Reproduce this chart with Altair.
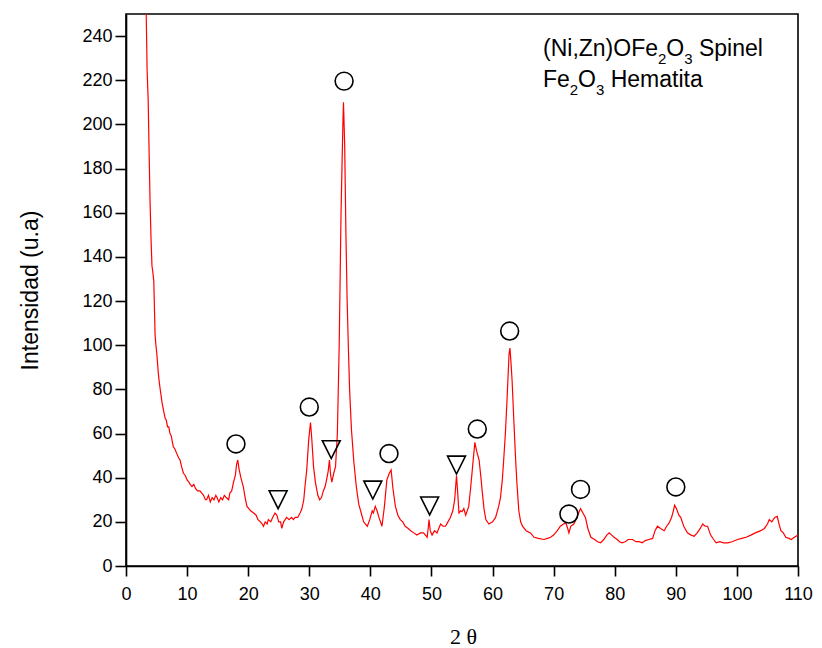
import altair as alt
import pandas as pd

# ---- data ----
two_theta = [
    3.30, 3.45, 3.63, 3.80, 3.93, 4.10, 4.20, 4.25, 4.40, 4.55, 4.70, 4.75, 4.90, 5.05, 5.30, 5.50,
    5.70, 5.90, 6.10, 6.40, 6.60, 6.80, 7.00, 7.20, 7.40, 7.60, 7.75, 8.00, 8.30, 8.60, 8.85, 9.10,
    9.40, 9.70, 10.00, 10.30, 10.50, 10.80, 11.10, 11.40, 11.70, 12.10, 12.40, 12.70, 13.00, 13.20,
    13.50, 13.80, 14.10, 14.40, 14.70, 14.90, 15.20, 15.50, 15.80, 16.10, 16.40, 16.80, 17.00, 17.30,
    17.60, 17.90, 18.10, 18.30, 18.50, 18.80, 19.00, 19.20, 19.50, 19.80, 20.10, 20.40, 20.90, 21.30,
    21.60, 22.00, 22.30, 22.50, 22.80, 23.10, 23.30, 23.70, 24.00, 24.40, 24.70, 25.00, 25.30, 25.50,
    25.80, 26.30, 26.70, 27.10, 27.40, 27.70, 28.10, 28.50, 28.80, 29.10, 29.30, 29.60, 29.90, 30.20,
    30.40, 30.70, 31.00, 31.40, 31.70, 32.00, 32.30, 32.60, 32.90, 33.10, 33.30, 33.50, 33.70, 34.00,
    34.30, 34.60, 34.90, 35.20, 35.50, 35.60, 35.80, 36.00, 36.20, 36.40, 36.60, 36.90, 37.30, 37.70,
    38.10, 38.50, 38.90, 39.20, 39.50, 39.90, 40.30, 40.50, 40.80, 41.10, 41.40, 41.90, 42.30, 42.70,
    43.10, 43.40, 43.70, 44.10, 44.50, 44.90, 45.30, 45.70, 46.20, 46.60, 47.10, 47.60, 48.20, 48.70,
    49.30, 49.50, 49.60, 49.80, 50.10, 50.50, 50.90, 51.20, 51.50, 51.90, 52.30, 52.70, 53.10, 53.50,
    53.80, 54.10, 54.30, 54.50, 54.80, 55.00, 55.30, 55.60, 56.10, 56.40, 56.70, 57.10, 57.40, 57.80,
    58.10, 58.30, 58.60, 58.90, 59.40, 60.00, 60.50, 61.00, 61.30, 61.60, 61.80, 62.10, 62.40, 62.70,
    62.85, 63.00, 63.20, 63.50, 63.80, 64.00, 64.30, 64.60, 64.90, 65.50, 66.20, 66.80, 67.50, 68.40,
    69.00, 69.50, 70.00, 70.60, 71.10, 71.60, 72.00, 72.30, 72.50, 72.80, 73.30, 73.80, 74.10, 74.40,
    74.80, 75.20, 75.60, 76.10, 76.70, 77.20, 77.70, 78.20, 78.70, 79.10, 79.50, 79.90, 80.40, 80.80,
    81.20, 81.70, 82.20, 82.90, 83.50, 84.00, 84.50, 85.00, 85.60, 86.20, 86.60, 87.00, 87.50, 88.10,
    88.50, 88.90, 89.30, 89.60, 89.80, 90.10, 90.50, 90.80, 91.30, 91.90, 92.50, 93.00, 93.50, 94.00,
    94.40, 94.80, 95.20, 95.70, 96.20, 96.60, 97.20, 97.80, 98.50, 99.20, 100.10, 100.80, 101.50,
    102.30, 103.00, 103.90, 104.50, 105.00, 105.30, 105.70, 106.20, 106.60, 106.90, 107.20, 107.60,
    108.00, 108.50, 108.90, 109.40, 110.00,
]
intensity = [
    252, 225, 211, 185, 166, 148, 140, 136, 133, 129, 112, 105, 100, 96, 87, 82,
    78, 74, 71, 67, 66, 63, 63, 60, 59, 56, 54, 53, 51, 49, 48, 45,
    42, 41, 39, 38, 37, 36, 37, 35, 34, 34, 33, 32, 30, 30,
    32, 29, 31, 30, 32, 31, 29, 31, 30, 32, 31, 30, 33, 34,
    38, 41, 46, 48, 44, 40, 38, 36, 31, 27, 26, 25, 24, 23,
    21, 20, 19, 18, 20, 19, 21, 20, 22, 24, 23, 20, 20, 17,
    20, 22, 21, 22, 21, 22, 22, 24, 26, 30, 36, 44, 57, 65,
    58, 45, 38, 32, 30, 31, 34, 36, 40, 43, 48, 41, 38, 42,
    45, 60, 100, 160, 200, 210, 190, 150, 120, 99, 80, 62, 47, 36,
    28, 24, 20, 19, 18, 21, 25, 24, 27, 25, 22, 18, 27, 39,
    42, 43.5, 35, 27, 23, 21, 20, 18, 17, 16, 15, 14, 15, 15,
    13, 18, 21, 16, 14, 16, 15, 17, 19, 18, 18, 20, 22, 25,
    30, 41, 33, 24, 25, 24.6, 26, 23, 27, 35, 44, 56, 52, 48,
    40, 34, 26, 21, 19, 20, 22, 27, 31, 39, 47, 60, 77, 96,
    98.7, 93, 84, 65, 47, 37, 25, 20, 18, 16, 15, 13, 12.5, 12,
    12.5, 13, 14, 16, 18, 19, 19.5, 17, 15, 18, 19, 22, 24, 26,
    24, 22, 17, 13, 12, 11, 10.5, 12, 14, 15, 14, 13, 12, 11,
    10.5, 11, 12, 12, 11, 11, 10.5, 11.5, 12, 12.5, 16, 18, 17, 16,
    18, 19.5, 22, 25, 27.5, 26, 23, 22, 18, 15, 14, 13.5, 15, 17,
    19, 18, 18, 14, 12, 10.5, 11, 10.5, 10.5, 11, 12, 12.5, 13,
    14, 15, 16, 17, 19, 21, 20, 22, 22.5, 19, 16, 15,
    13, 12.5, 12, 13, 14,
]

spinel_theta = [18.0, 30.0, 35.7, 43.05, 57.5, 62.8, 72.5, 74.4, 90.0]
spinel_level = [55.3, 72.0, 219.6, 50.9, 62.0, 106.4, 23.5, 34.7, 35.8]
hematite_theta = [24.9, 33.6, 40.4, 49.7, 54.1]
hematite_level = [30.0, 52.7, 34.4, 27.2, 45.7]

x_ticks = list(range(0, 111, 5))
y_ticks = list(range(0, 251, 10))

# ---- chart ----
curve = pd.DataFrame({"t": two_theta, "i": intensity})
spinel = pd.DataFrame({"t": spinel_theta, "i": spinel_level})
hematite = pd.DataFrame({"t": hematite_theta, "i": hematite_level})

FONT = "Liberation Sans"

x_enc = alt.X(
    "t:Q",
    scale=alt.Scale(domain=[0, 110], nice=False, zero=False),
    axis=alt.Axis(
        values=x_ticks,
        labelExpr="datum.value % 10 === 0 ? datum.label : ''",
        tickSize={"condition": {"test": "datum.value % 10 === 0", "value": 10}, "value": 5},
        tickWidth=1.6,
        tickColor="black",
        domainColor="black",
        domainWidth=1.6,
        grid=False,
        labelFont=FONT,
        labelFontSize=18,
        labelColor="black",
        labelPadding=9,
        labelFlush=False,
        labelOverlap=False,
        title="2 θ",
        titleFont="Liberation Serif",
        titleFontSize=22,
        titleFontWeight="normal",
        titleColor="black",
        titleX=337,
        titleY=70,
        titleBaseline="middle",
        titleAlign="center",
    ),
)
y_enc = alt.Y(
    "i:Q",
    scale=alt.Scale(domain=[0, 250], nice=False, zero=False),
    axis=alt.Axis(
        values=y_ticks,
        labelExpr="datum.value % 20 === 0 && datum.value <= 240 ? datum.label : ''",
        tickSize={"condition": {"test": "datum.value % 20 === 0", "value": 11}, "value": 6},
        tickWidth=1.6,
        tickColor="black",
        domainColor="black",
        domainWidth=1.6,
        grid=False,
        labelFont=FONT,
        labelFontSize=18,
        labelColor="black",
        labelPadding=3,
        labelFlush=False,
        labelOverlap=False,
        title="Intensidad (u.a)",
        titleFont=FONT,
        titleFontSize=23,
        titleFontWeight="normal",
        titleColor="black",
        titleX=-96,
        titleY=276,
        titleAngle=270,
        titleBaseline="middle",
        titleAlign="center",
    ),
)

line = alt.Chart(curve).mark_line(color="#ff0000", strokeWidth=1.2, clip=True).encode(
    x=x_enc, y=y_enc, order="t:Q"
)

circles = alt.Chart(spinel).mark_point(
    shape="circle", size=320, filled=False, color="black", strokeWidth=1.6, opacity=1
).encode(x="t:Q", y="i:Q")

triangles = alt.Chart(hematite).mark_point(
    shape="M-1,-1L1,-1L0,1Z", size=320, filled=False, color="black", strokeWidth=1.6, opacity=1
).encode(x="t:Q", y="i:Q")

# legend text (subscripts composed from pieces)
legend_pieces = [
    # text, x(px in plot), y baseline(px in plot), size
    ("(Ni,Zn)OFe", 417, 42, 23),
    ("2", 532, 50, 15),
    ("O", 540.3, 42, 23),
    ("3", 558.2, 50, 15),
    ("Spinel", 572.9, 42, 23),
    ("Fe", 417, 73, 23),
    ("2", 443.8, 81, 15),
    ("O", 452.1, 73, 23),
    ("3", 470, 81, 15),
    ("Hematita", 484.7, 73, 23),
]
legend_layers = []
for txt, px, py, fs in legend_pieces:
    legend_layers.append(
        alt.Chart(pd.DataFrame({"s": [txt]})).mark_text(
            align="left", baseline="alphabetic", font=FONT, fontSize=fs, color="black"
        ).encode(text="s:N", x=alt.value(px), y=alt.value(py))
    )

chart = alt.layer(line, circles, triangles, *legend_layers).properties(
    width=672,
    height=552,
    autosize=alt.AutoSizeParams(type="none"),
    padding={"left": 126, "top": 14, "right": 24, "bottom": 82},
    background="white",
).configure_view(stroke="black", strokeWidth=1.6)

chart.save("out.html", embed_options={"renderer": "svg", "actions": False})
